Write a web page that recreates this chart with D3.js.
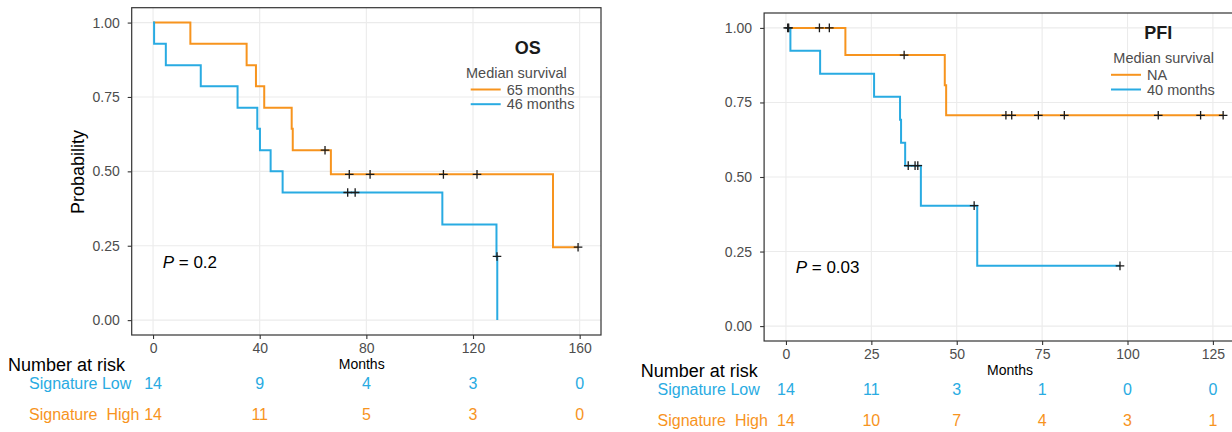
<!DOCTYPE html>
<html>
<head>
<meta charset="utf-8">
<script src="https://cdn.jsdelivr.net/npm/d3@7"></script>
<style>
  body { margin: 0; background: #fff; }
  svg { display: block; font-family: "Liberation Sans", Arial, sans-serif; }
</style>
</head>
<body>
<svg></svg>
<script>
// OS curves: step times (months) and survival level after each step
const osHighTime = [0, 14, 35.1, 38.6, 41.7, 52, 52.4, 66.7, 150];
const osHighSurv = [1, 0.929, 0.857, 0.786, 0.714, 0.643, 0.571, 0.490, 0.245];
const osHighEnd = 159.4;
const osHighCensor = [64.5, 73.6, 81.4, 108.9, 121.5, 159.4];

const osLowTime = [0, 0.4, 4.8, 17.9, 31.7, 39.1, 40.1, 44.1, 48.6, 108.5, 128.8, 129.1];
const osLowSurv = [1, 0.929, 0.857, 0.786, 0.714, 0.643, 0.571, 0.5, 0.429, 0.321, 0.214, 0];
const osLowEnd = 129.1;
const osLowCensor = [73.0, 75.8, 129.0];

// PFI curves
const pfiHighTime = [0, 17.4, 46.5, 46.9];
const pfiHighSurv = [1, 0.909, 0.808, 0.707];
const pfiHighEnd = 128;
const pfiHighCensor = [0.8, 9.8, 12.7, 34.6, 64.4, 66.1, 73.9, 81.5, 109, 121.4, 128];

const pfiLowTime = [0, 1.3, 10, 25.8, 33.4, 33.7, 34.9, 39.5, 56];
const pfiLowSurv = [1, 0.923, 0.846, 0.769, 0.692, 0.615, 0.538, 0.404, 0.202];
const pfiLowEnd = 97.8;
const pfiLowCensor = [0.5, 35.8, 37.8, 38.6, 55.1, 97.8];

// number at risk tables
const osBreaks = [0, 40, 80, 120, 160];
const osLowRisk = [14, 9, 4, 3, 0];
const osHighRisk = [14, 11, 5, 3, 0];
const pfiBreaks = [0, 25, 50, 75, 100, 125];
const pfiLowRisk = [14, 11, 3, 1, 0, 0];
const pfiHighRisk = [14, 10, 7, 4, 3, 1];

const yTicks = [0, 0.25, 0.5, 0.75, 1];

const orange = "#F7941E";
const blue = "#29ABE2";

const svg = d3.select("svg")
  .attr("width", 1232)
  .attr("height", 432);

function drawPanel(p) {
  const x = d3.scaleLinear().domain(p.xDomain).range([p.left, p.right]);
  const y = d3.scaleLinear().domain([-0.05, 1.05]).range([p.bottom, p.top]);
  const g = svg.append("g");

  // grid
  g.selectAll(".gx").data(p.breaks).enter().append("line")
    .attr("x1", d => x(d)).attr("x2", d => x(d))
    .attr("y1", p.top).attr("y2", p.bottom)
    .attr("stroke", "#EBEBEB").attr("stroke-width", 1.1);
  g.selectAll(".gy").data(yTicks).enter().append("line")
    .attr("x1", p.left).attr("x2", p.right)
    .attr("y1", d => y(d)).attr("y2", d => y(d))
    .attr("stroke", "#EBEBEB").attr("stroke-width", 1.1);

  // axes
  const ax = g.append("g")
    .attr("transform", `translate(0, ${p.bottom})`)
    .call(d3.axisBottom(x).tickValues(p.breaks).tickSize(4).tickPadding(4).tickFormat(d3.format("d")));
  const ay = g.append("g")
    .attr("transform", `translate(${p.left}, 0)`)
    .call(d3.axisLeft(y).tickValues(yTicks).tickSize(4).tickPadding(8).tickFormat(d3.format(".2f")));
  [ax, ay].forEach(a => {
    a.select(".domain").remove();
    a.selectAll("line").attr("stroke", "#333").attr("stroke-width", 1.1);
    a.selectAll("text").attr("fill", "#4D4D4D").attr("font-size", "14px")
      .attr("font-family", "Liberation Sans, Arial, sans-serif");
  });

  // panel border
  g.append("rect")
    .attr("x", p.left).attr("y", p.top)
    .attr("width", p.right - p.left).attr("height", p.bottom - p.top)
    .attr("fill", "none").attr("stroke", "#333").attr("stroke-width", 1.2);

  // curves
  const line = d3.line().curve(d3.curveStepAfter)
    .x(d => x(d[0])).y(d => y(d[1]));
  p.curves.forEach(c => {
    const pts = c.time.map((t, i) => [t, c.surv[i]]);
    pts.push([c.end, c.surv[c.surv.length - 1]]);
    g.append("path")
      .attr("d", line(pts))
      .attr("fill", "none")
      .attr("stroke", c.color)
      .attr("stroke-width", 2);
  });
  // censor marks
  p.curves.forEach(c => {
    const level = t => c.surv[d3.bisectRight(c.time, t) - 1];
    g.selectAll(null).data(c.censor).enter().append("path")
      .attr("transform", d => `translate(${x(d)}, ${y(level(d))})`)
      .attr("d", "M-4.3,0H4.3M0,-4.3V4.3")
      .attr("stroke", "#1a1a1a")
      .attr("stroke-width", 1.3);
  });

  // p value
  const pt = g.append("text")
    .attr("x", p.pX).attr("y", p.pY)
    .attr("font-size", "17px").attr("fill", "#000");
  pt.append("tspan").attr("font-style", "italic").text("P");
  pt.append("tspan").text(" = " + p.pValue);

  // legend
  g.append("text")
    .attr("x", p.titleX).attr("y", p.legY)
    .attr("text-anchor", "middle")
    .attr("font-size", "18px").attr("font-weight", "bold").attr("fill", "#1a1a1a")
    .text(p.title);
  g.append("text")
    .attr("x", p.medX).attr("y", p.legY + 23.5)
    .attr("font-size", "14.5px").attr("fill", "#4D4D4D")
    .text("Median survival");
  p.legend.forEach((l, i) => {
    const ly = p.legY + 35.5 + i * 14.7;
    g.append("line")
      .attr("x1", p.lineX).attr("x2", p.lineX + 30)
      .attr("y1", ly).attr("y2", ly)
      .attr("stroke", l.color).attr("stroke-width", 2);
    g.append("text")
      .attr("x", p.lineX + 36).attr("y", ly + 5)
      .attr("font-size", "14.5px").attr("fill", "#4D4D4D")
      .text(l.label);
  });

  // months label
  g.append("text")
    .attr("x", p.monthsX).attr("y", p.bottom + 33.5)
    .attr("text-anchor", "middle")
    .attr("font-size", "14px").attr("fill", "#000")
    .text("Months");

  // number at risk table
  g.append("text")
    .attr("x", p.tableX).attr("y", p.bottom + 36)
    .attr("font-size", "18px").attr("fill", "#000")
    .text("Number at risk");
  p.rows.forEach((r, i) => {
    const ry = p.bottom + 53.7 + i * 30.8;
    g.append("text")
      .attr("x", p.rowX).attr("y", ry)
      .attr("font-size", "16px").attr("fill", r.color)
      .style("white-space", "pre")
      .text(r.label);
    g.selectAll(null).data(r.values).enter().append("text")
      .attr("x", (d, j) => x(p.breaks[j]))
      .attr("y", ry)
      .attr("text-anchor", "middle")
      .attr("font-size", "16px").attr("fill", r.color)
      .text(d => d);
  });
}

// left panel: OS
drawPanel({
  left: 131.7, right: 601, top: 7.7, bottom: 335,
  xDomain: [-8, 168], breaks: osBreaks,
  curves: [
    { time: osHighTime, surv: osHighSurv, end: osHighEnd, censor: osHighCensor, color: orange },
    { time: osLowTime, surv: osLowSurv, end: osLowEnd, censor: osLowCensor, color: blue }
  ],
  pX: 162.7, pY: 268.3, pValue: "0.2",
  title: "OS", titleX: 527.7, legY: 54, medX: 466, lineX: 470.7,
  legend: [{ label: "65 months", color: orange }, { label: "46 months", color: blue }],
  monthsX: 361.7, tableX: 8, rowX: 29,
  rows: [
    { label: "Signature Low", values: osLowRisk, color: blue },
    { label: "Signature  High", values: osHighRisk, color: orange }
  ]
});

// right panel: PFI
drawPanel({
  left: 764.1, right: 1245, top: 13, bottom: 341,
  xDomain: [-6.4, 134.4], breaks: pfiBreaks,
  curves: [
    { time: pfiHighTime, surv: pfiHighSurv, end: pfiHighEnd, censor: pfiHighCensor, color: orange },
    { time: pfiLowTime, surv: pfiLowSurv, end: pfiLowEnd, censor: pfiLowCensor, color: blue }
  ],
  pX: 795.7, pY: 273.3, pValue: "0.03",
  title: "PFI", titleX: 1158.3, legY: 39.3, medX: 1113.3, lineX: 1111,
  legend: [{ label: "NA", color: orange }, { label: "40 months", color: blue }],
  monthsX: 1010, tableX: 640.7, rowX: 657.5,
  rows: [
    { label: "Signature Low", values: pfiLowRisk, color: blue },
    { label: "Signature  High", values: pfiHighRisk, color: orange }
  ]
});

// y-axis title (left panel only)
svg.append("text")
  .attr("transform", "translate(84.3, 172) rotate(-90)")
  .attr("text-anchor", "middle")
  .attr("font-size", "18px").attr("fill", "#000")
  .text("Probability");
</script>
</body>
</html>
